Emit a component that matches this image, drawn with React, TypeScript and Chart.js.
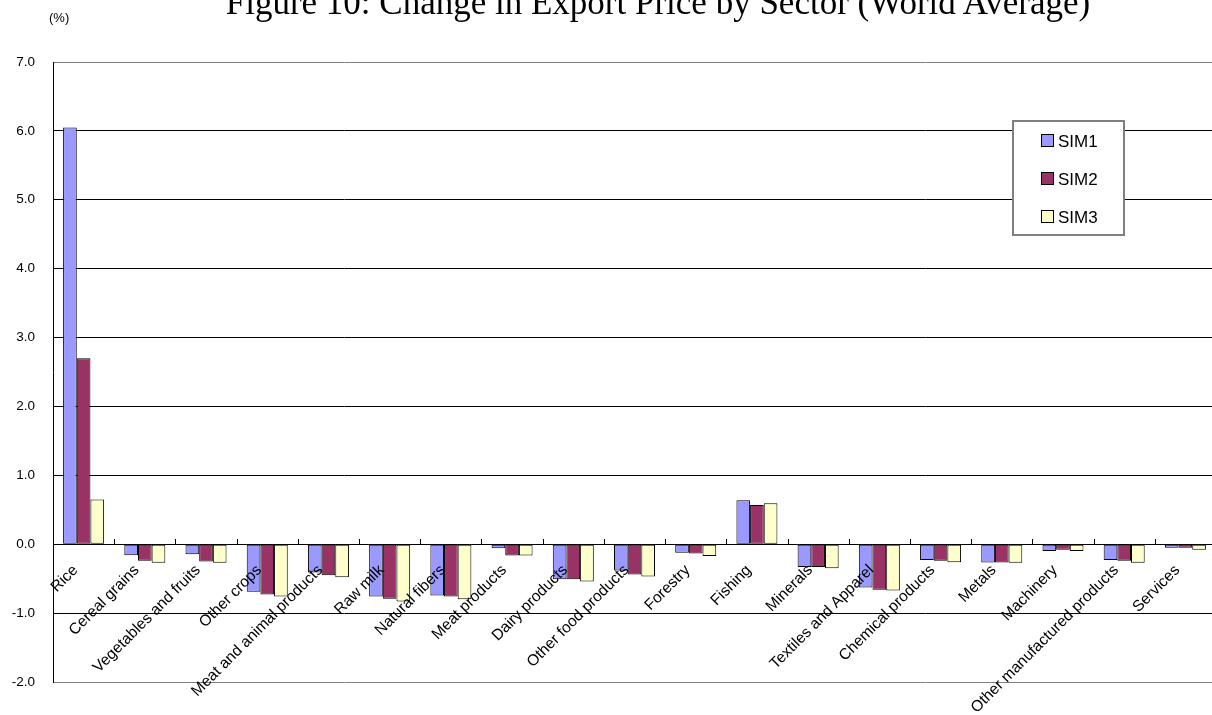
import React, { useEffect, useRef } from "react";
import { Chart, registerables } from "chart.js";

Chart.register(...registerables);

const titleText = "Figure 10: Change in Export Price by Sector (World Average)";
const unitLabel = "(%)";

const categories = [
  "Rice",
  "Cereal grains",
  "Vegetables and fruits",
  "Other crops",
  "Meat and animal products",
  "Raw milk",
  "Natural fibers",
  "Meat products",
  "Dairy products",
  "Other food products",
  "Forestry",
  "Fishing",
  "Minerals",
  "Textiles and Apparel",
  "Chemical products",
  "Metals",
  "Machinery",
  "Other manufactured products",
  "Services",
];

const sim1 = [6.05, -0.16, -0.145, -0.69, -0.41, -0.76, -0.745, -0.06, -0.51, -0.38, -0.125, 0.64, -0.33, -0.63, -0.23, -0.265, -0.1, -0.23, -0.05];
const sim2 = [2.7, -0.24, -0.25, -0.73, -0.45, -0.79, -0.76, -0.165, -0.51, -0.44, -0.135, 0.57, -0.33, -0.66, -0.24, -0.265, -0.08, -0.24, -0.05];
const sim3 = [0.65, -0.27, -0.27, -0.76, -0.48, -0.83, -0.8, -0.165, -0.54, -0.47, -0.17, 0.595, -0.35, -0.67, -0.26, -0.27, -0.1, -0.27, -0.08];

const seriesLabels = ["SIM1", "SIM2", "SIM3"];
const seriesColors = ["#9999FF", "#993366", "#FFFFCC"];

const yMin = -2;
const yMax = 7;
const yStep = 1;

const SANS = "'Liberation Sans', Arial, sans-serif";
const SERIF = "'Liberation Serif', 'Times New Roman', serif";

export default function App() {
  const canvasRef = useRef<HTMLCanvasElement | null>(null);

  useEffect(() => {
    if (!canvasRef.current) return;

    const categoryTicks = {
      id: "categoryTicks",
      afterDatasetsDraw(chart: any) {
        const xs = chart.scales.x;
        const ys = chart.scales.y;
        const ctx = chart.ctx;
        const y0 = Math.round(ys.getPixelForValue(0));
        ctx.save();
        ctx.strokeStyle = "#000";
        ctx.lineWidth = 1;
        for (let i = 1; i < categories.length; i++) {
          const px = Math.round((xs.getPixelForValue(i - 1) + xs.getPixelForValue(i)) / 2) + 0.5;
          ctx.beginPath();
          ctx.moveTo(px, y0 - 5);
          ctx.lineTo(px, y0);
          ctx.stroke();
        }
        ctx.restore();
      },
    };

    const boxLegend = {
      id: "boxLegend",
      afterDraw(chart: any) {
        const ctx = chart.ctx;
        const bx = 1013, by = 121, bw = 111, bh = 114;
        ctx.save();
        ctx.fillStyle = "#ffffff";
        ctx.fillRect(bx, by, bw, bh);
        ctx.strokeStyle = "#808080";
        ctx.lineWidth = 2;
        ctx.strokeRect(bx, by, bw, bh);
        chart.data.datasets.forEach((ds: any, i: number) => {
          const cy = 141 + i * 38;
          ctx.fillStyle = ds.backgroundColor;
          ctx.fillRect(1042, cy - 6, 11, 11);
          ctx.strokeStyle = "#000";
          ctx.lineWidth = 1;
          ctx.strokeRect(1041.5, cy - 6.5, 12, 12);
          ctx.fillStyle = "#000";
          ctx.font = `17px ${SANS}`;
          ctx.textBaseline = "middle";
          ctx.textAlign = "left";
          ctx.fillText(ds.label, 1058, cy + 1);
        });
        ctx.restore();
      },
    };

    const chart = new Chart(canvasRef.current, {
      type: "bar",
      data: {
        labels: categories,
        datasets: [sim1, sim2, sim3].map((d, i) => ({
          label: seriesLabels[i],
          data: d,
          backgroundColor: seriesColors[i],
          borderColor: "#000",
          borderWidth: 1,
          borderSkipped: false,
          categoryPercentage: 0.67,
          barPercentage: 1.0,
        })),
      },
      options: {
        animation: false,
        responsive: true,
        maintainAspectRatio: false,
        layout: { padding: { left: 0, right: 6, top: 62, bottom: 33 } },
        plugins: {
          legend: { display: false },
          title: { display: false },
          tooltip: { enabled: false },
        },
        scales: {
          x: {
            position: { y: 0 } as any,
            grid: { display: false },
            border: { display: true, color: "#000", width: 1, z: 1 } as any,
            ticks: {
              z: 2,
              autoSkip: false,
              minRotation: 45,
              maxRotation: 45,
              padding: 9,
              labelOffset: -8,
              color: "#000",
              font: { family: SANS, size: 15.5 },
            },
          },
          y: {
            min: yMin,
            max: yMax,
            afterFit: (s: any) => {
              s.width = 53;
            },
            grid: {
              color: (c: any) =>
                c.tick && (c.tick.value === yMax || c.tick.value === yMin) ? "#808080" : "#000",
              lineWidth: 1,
              drawTicks: false,
            },
            border: { display: true, color: "#000", width: 1 },
            ticks: {
              stepSize: yStep,
              padding: 18,
              color: "#000",
              font: { family: SANS, size: 13.5 },
              callback: (v: any) => Number(v).toFixed(1),
            },
          },
        },
      },
      plugins: [categoryTicks, boxLegend],
    });

    return () => chart.destroy();
  }, []);

  return (
    <div
      style={{
        position: "fixed",
        left: 0,
        top: 0,
        width: 1212,
        height: 715,
        overflow: "hidden",
        background: "#fff",
      }}
    >
      <div style={{ position: "absolute", left: 0, top: 0, width: 1222, height: 715 }}>
        <canvas ref={canvasRef} />
      </div>
      <div
        style={{
          position: "absolute",
          left: 158,
          width: 1000,
          top: -15,
          textAlign: "center",
          whiteSpace: "nowrap",
          fontFamily: SERIF,
          fontSize: 35,
          lineHeight: "35px",
          color: "#000",
        }}
      >
        {titleText}
      </div>
      <div
        style={{
          position: "absolute",
          left: 49,
          top: 10,
          fontFamily: SANS,
          fontSize: 13,
          lineHeight: "16px",
          color: "#000",
        }}
      >
        {unitLabel}
      </div>
    </div>
  );
}
